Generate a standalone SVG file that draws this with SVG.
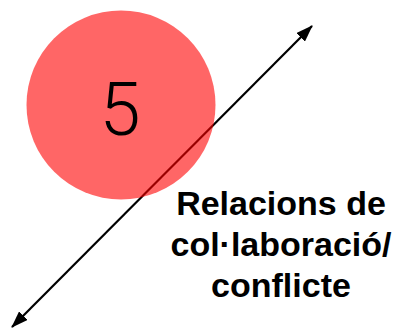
<svg xmlns="http://www.w3.org/2000/svg" width="400" height="332" viewBox="0 0 400 332">
<defs>
<marker id="ah" viewBox="0 0 17 12" refX="16" refY="6" markerWidth="17" markerHeight="12" orient="auto-start-reverse" markerUnits="userSpaceOnUse">
<path d="M0,0 L17,6 L0,12 z" fill="#000"/>
</marker>
<style>
.lbl{font-family:"Liberation Sans",Arial,sans-serif;font-weight:bold;font-size:34px;fill:#000;text-anchor:middle}
.num{font-family:Roboto,"Liberation Sans",sans-serif;font-weight:300;font-size:74px;fill:#000;text-anchor:middle}
</style>
</defs>
<rect width="400" height="332" fill="#fff"/>
<g id="connectors">
<line x1="312" y1="26" x2="12" y2="327" stroke="#000" stroke-width="2.2" marker-start="url(#ah)" marker-end="url(#ah)"/>
</g>
<g id="node5">
<circle cx="121" cy="105" r="94.5" fill="#ff0000" fill-opacity="0.6"/>
<text class="num" x="120" y="135">5</text>
</g>
<g id="label">
<text class="lbl" x="281" y="215">Relacions de</text>
<text class="lbl" x="281" y="256">col·laboració/</text>
<text class="lbl" x="281" y="297">conflicte</text>
</g>
</svg>
